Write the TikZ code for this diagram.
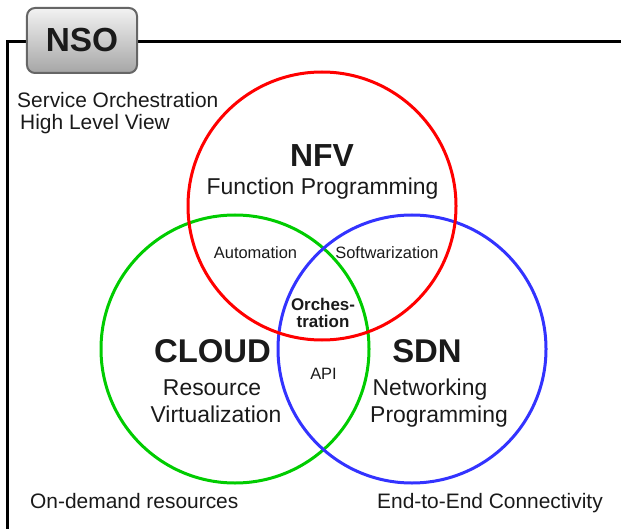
\documentclass[tikz,border=0pt]{standalone}
\usepackage{fontspec}
\setmainfont{Liberation Sans}
\definecolor{txt}{HTML}{1A1A1A}
\definecolor{cred}{HTML}{FF0000}
\definecolor{cgreen}{HTML}{00CC00}
\definecolor{cblue}{HTML}{3333FF}
\tikzset{
  lbl/.style={inner sep=0pt, text=txt, anchor=base},
  big/.style={lbl, font=\bfseries\fontsize{33}{33}\selectfont},
  mid/.style={lbl, font=\fontsize{23}{23}\selectfont},
  side/.style={lbl, font=\fontsize{21}{21}\selectfont, anchor=base west},
  small/.style={lbl, font=\fontsize{16.5}{16.5}\selectfont},
  smallb/.style={lbl, font=\bfseries\fontsize{17}{17}\selectfont},
  ring/.style={line width=3bp},
  nsobox/.style={draw=black!60, line width=2bp, rounded corners=8bp,
    top color=black!5, bottom color=black!35, minimum width=110bp,
    minimum height=65bp, inner sep=0pt, text=txt,
    font=\bfseries\fontsize{33.5}{33.5}\selectfont}
}
\begin{document}
\begin{tikzpicture}[x=1bp,y=-1bp]
\useasboundingbox (0,0) rectangle (621,529);
\draw[line width=3bp] (7,530) -- (7,42) -- (622,42);
\node[nsobox] (nso) at (82,40.5) {NSO};
\draw[ring, cgreen] (235,349) circle[radius=134];
\draw[ring, cblue] (412,349) circle[radius=134];
\draw[ring, cred] (322,206) circle[radius=134];
\node[side] (sv1) at (17,108) {Service Orchestration};
\node[side] (sv2) at (20,130) {High Level View};
\node[big, font=\bfseries\fontsize{32}{32}\selectfont] (nfv) at (322,167) {NFV};
\node[mid] (fp) at (322.5,195) {Function Programming};
\node[small] (auto) at (255.5,258) {Automation};
\node[small] (soft) at (387,258) {Softwarization};
\node[smallb] (orc1) at (323,310) {Orches-};
\node[smallb] (orc2) at (323,327) {tration};
\node[big] (cloud) at (212.5,362) {CLOUD};
\node[mid] (res) at (212,395) {Resource};
\node[mid] (virt) at (216,422) {Virtualization};
\node[big] (sdn) at (427,362) {SDN};
\node[mid] (net) at (430,395) {Networking};
\node[mid] (prog) at (439,422) {Programming};
\node[small] (api) at (323.5,379) {API};
\node[side] (ond) at (30,508) {On-demand resources};
\node[side] (e2e) at (377,508) {End-to-End Connectivity};
\end{tikzpicture}
\end{document}
